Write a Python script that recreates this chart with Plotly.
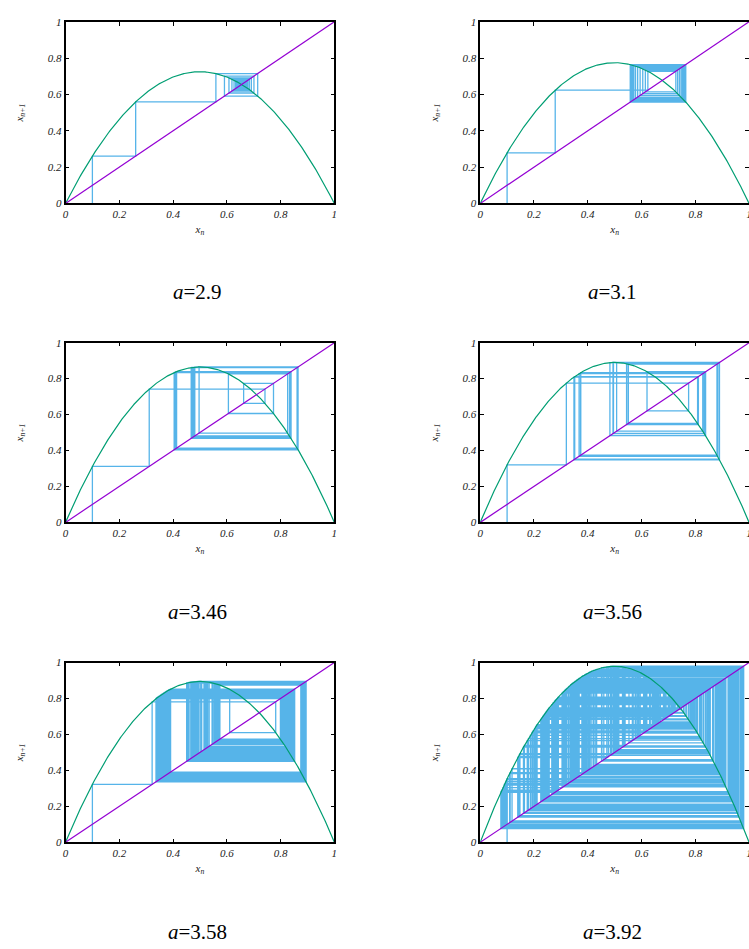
import numpy as np
import plotly.graph_objects as go

# ---- data ----
a_values = [2.9, 3.1, 3.46, 3.56, 3.58, 3.92]
panel_titles = ["a=2.9", "a=3.1", "a=3.46", "a=3.56", "a=3.58", "a=3.92"]
x_start = 0.1
n_iterations = 400
tick_values = [0, 0.2, 0.4, 0.6, 0.8, 1]
tick_labels = ["0", "0.2", "0.4", "0.6", "0.8", "1"]

W, H = 760, 949
col_px = [(63, 334), (481, 752)]
row_px = [(16, 200), (341, 523), (665, 847)]
title_y_px = [290, 614, 938]

C_CURVE = "#009e73"
C_DIAG = "#9400d3"
C_WEB = "#56b4e9"
SERIF = "Liberation Serif"

fig = go.Figure()
xs_curve = np.linspace(0, 1, 401)

for i, a in enumerate(a_values):
    r, c = divmod(i, 2)
    k = i + 1
    xa = "x" if k == 1 else f"x{k}"
    ya = "y" if k == 1 else f"y{k}"

    # cobweb path of the logistic map x -> a x (1-x)
    wx, wy = [x_start], [0.0]
    x = x_start
    for _ in range(n_iterations):
        y = a * x * (1 - x)
        wx += [x, y]
        wy += [y, y]
        x = y

    fig.add_trace(go.Scatter(x=wx, y=wy, mode="lines", line=dict(color=C_WEB, width=1.3),
                             xaxis=xa, yaxis=ya, showlegend=False, hoverinfo="skip"))
    fig.add_trace(go.Scatter(x=xs_curve, y=a * xs_curve * (1 - xs_curve), mode="lines",
                             line=dict(color=C_CURVE, width=1.2),
                             xaxis=xa, yaxis=ya, showlegend=False, hoverinfo="skip"))
    fig.add_trace(go.Scatter(x=[0, 1], y=[0, 1], mode="lines",
                             line=dict(color=C_DIAG, width=1.2),
                             xaxis=xa, yaxis=ya, showlegend=False, hoverinfo="skip"))

    x0p, x1p = col_px[c]
    y0p, y1p = row_px[r]
    tfont = dict(family=SERIF, size=11, color="#222", style="italic")
    axcommon = dict(range=[0, 1], showgrid=False, zeroline=False, showline=True,
                    linecolor="black", linewidth=1.5, mirror="ticks", ticks="inside",
                    ticklen=4, tickcolor="black", tickvals=tick_values, ticktext=tick_labels,
                    tickfont=tfont)
    fig.layout[f"xaxis{'' if k == 1 else k}"] = dict(
        axcommon, domain=[x0p / W, x1p / W], anchor=ya,
        title=dict(text="x<sub>n</sub>", font=tfont, standoff=6))
    fig.layout[f"yaxis{'' if k == 1 else k}"] = dict(
        axcommon, domain=[1 - y1p / H, 1 - y0p / H], anchor=xa,
        title=dict(text="x<sub>n+1</sub>", font=tfont, standoff=22))

    name, val = panel_titles[i].split("=")
    fig.add_annotation(text=f"<i>{name}</i>={val}", x=((x0p + x1p) / 2 - 2) / W,
                       y=1 - title_y_px[r] / H, xref="paper", yref="paper",
                       showarrow=False, xanchor="center", yanchor="middle",
                       font=dict(family=SERIF, size=21, color="black"))

fig.update_layout(width=W, height=H, autosize=False,
                  margin=dict(l=0, r=0, t=0, b=0),
                  paper_bgcolor="white", plot_bgcolor="white")

fig.write_html("out.html")
